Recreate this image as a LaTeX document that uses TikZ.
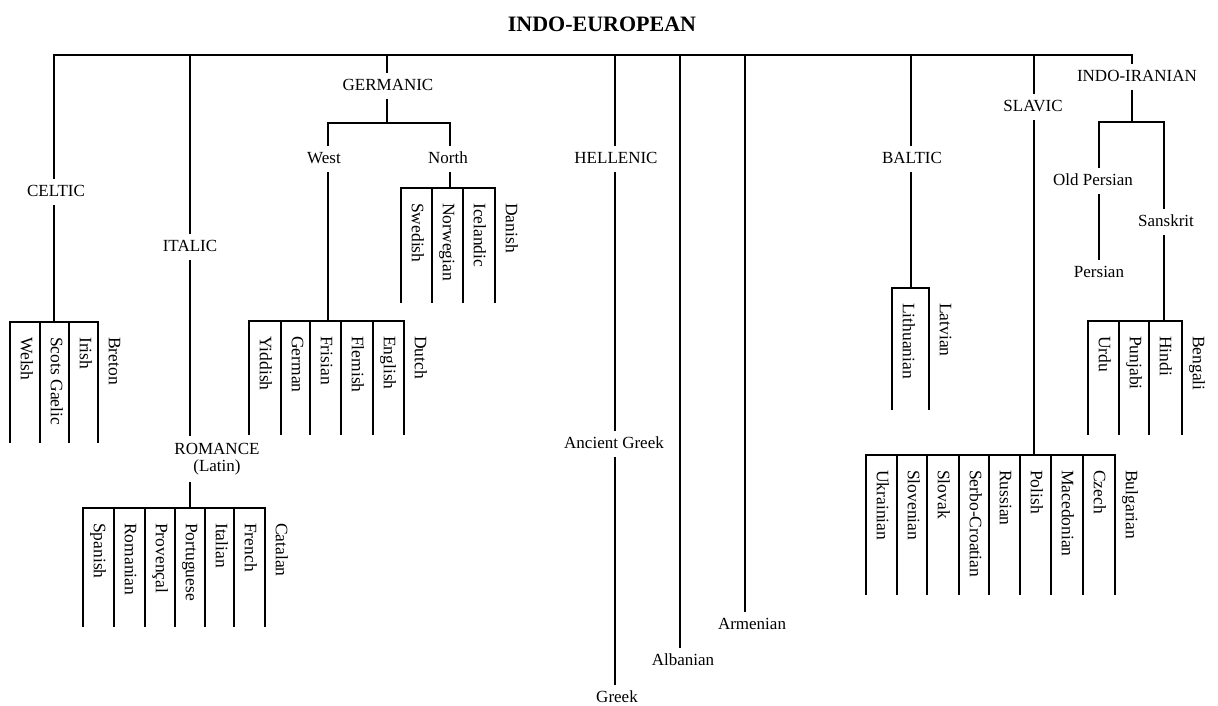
\documentclass[tikz,border=0pt]{standalone}
\usepackage{fontspec}
\setmainfont{Liberation Serif}
\begin{document}
\begin{tikzpicture}[x=1pt,y=-1pt,
  trunk/.style={line width=2.8pt,line join=miter},
  bar/.style={line width=2.2pt,line cap=rect},
  leaf/.style={line width=1.6pt},
  group/.style={font=\fontsize{17}{17}\selectfont,inner xsep=2pt,inner ysep=5pt,
    text height=12pt,text depth=3.5pt},
  lang/.style={rotate=-90,anchor=west,inner sep=0pt,
    font=\fontsize{17.5}{18}\selectfont,text height=12pt,text depth=3.5pt},
  title/.style={font=\fontsize{22}{24}\bfseries\selectfont,inner sep=0pt}
]
\useasboundingbox (0,0) rectangle (1218,706);

% a comb of languages: prefix, y of the bar, y of the line ends, x/name list
\newcommand\langcomb[4]{%
  \foreach \x/\lbl [count=\i] in {#4} {
    \coordinate (#1-\i) at (\x,#2);
    \coordinate (#1-\i-end) at (\x,#3);
    \draw[leaf] (#1-\i) -- (#1-\i-end);
    \node[lang] (#1-\i-name) at (\x+15,#2+15) {\lbl};
  }%
}

% ---------- labels ----------
\node[title] (ie) at (602,24) {INDO-EUROPEAN};
\node[group] (celtic) at (56,192) {CELTIC};
\node[group] (italic) at (190,247) {ITALIC};
\node[group,align=center,inner ysep=7pt,text height=,text depth=]
  (romance) at (217,459) {ROMANCE\\(Latin)};
\node[group] (germanic) at (388,86) {GERMANIC};
\node[group] (west) at (324,159) {West};
\node[group] (north) at (448,159) {North};
\node[group] (hellenic) at (616,159) {HELLENIC};
\node[group] (ancgreek) at (614,444) {Ancient Greek};
\node[group] (greek) at (617,698) {Greek};
\node[group] (albanian) at (683,661) {Albanian};
\node[group] (armenian) at (752,625) {Armenian};
\node[group] (baltic) at (912,159) {BALTIC};
\node[group] (slavic) at (1033,107) {SLAVIC};
\node[group] (indoiran) at (1137,77) {INDO-IRANIAN};
\node[group] (oldpers) at (1093,181) {Old Persian};
\node[group] (persian) at (1099,273) {Persian};
\node[group] (sanskrit) at (1166,222) {Sanskrit};

% ---------- branch points ----------
\coordinate (tCel) at (54,55);
\coordinate (tIta) at (190,55);
\coordinate (tGer) at (387,55);
\coordinate (tHel) at (615,55);
\coordinate (tAlb) at (680,55);
\coordinate (tArm) at (745,55);
\coordinate (tBal) at (911,55);
\coordinate (tSla) at (1034,55);
\coordinate (tIIr) at (1132,55);
\coordinate (gWest) at (328,123);
\coordinate (gNorth) at (450,123);
\coordinate (iiL) at (1099,122);
\coordinate (iiR) at (1164,122);

% ---------- language combs ----------
\langcomb{cel}{322}{443}{10/Welsh,40/Scots Gaelic,69/Irish,98/Breton}
\langcomb{rom}{508}{627}{83/Spanish,114/Romanian,145/Provençal,175/Portuguese,205/Italian,234/French,265/Catalan}
\langcomb{wg}{321}{435}{249/Yiddish,281/German,310/Frisian,341/Flemish,373/English,404/Dutch}
\langcomb{ng}{188}{303}{401/Swedish,432/Norwegian,463/Icelandic,495/Danish}
\langcomb{bal}{288}{410}{892/Lithuanian,929/Latvian}
\langcomb{sla}{455}{595}{866/Ukrainian,897/Slovenian,927/Slovak,959/Serbo-Croatian,989/Russian,1020/Polish,1051/Macedonian,1083/Czech,1115/Bulgarian}
\langcomb{ind}{321}{435}{1088/Urdu,1119/Punjabi,1149/Hindi,1182/Bengali}

\draw[bar] (cel-1) -- (cel-4);
\draw[bar] (rom-1) -- (rom-7);
\draw[bar] (wg-1) -- (wg-6);
\draw[bar] (ng-1) -- (ng-4);
\draw[bar] (bal-1) -- (bal-2);
\draw[bar] (sla-1) -- (sla-9);
\draw[bar] (ind-1) -- (ind-4);

% ---------- main tree ----------
\draw[trunk] (tCel |- celtic.north) -- (tCel) -- (tIIr) -- (tIIr |- indoiran.north);
\draw[trunk] (tCel |- celtic.south) -- (tCel |- cel-1);

\draw[trunk] (tIta) -- (tIta |- italic.north);
\draw[trunk] (tIta |- italic.south) -- (tIta |- romance.north);
\draw[trunk] (tIta |- romance.south) -- (tIta |- rom-1);

\draw[trunk] (tGer) -- (tGer |- germanic.north);
\draw[trunk] (tGer |- germanic.south) -- (tGer |- gWest);
\draw[trunk] (gWest |- west.north) -- (gWest) -- (gNorth) -- (gNorth |- north.north);
\draw[trunk] (gWest |- west.south) -- (gWest |- wg-1);
\draw[trunk] (gNorth |- north.south) -- (gNorth |- ng-1);

\draw[trunk] (tHel) -- (tHel |- hellenic.north);
\draw[trunk] (tHel |- hellenic.south) -- (tHel |- ancgreek.north);
\draw[trunk] (tHel |- ancgreek.south) -- (tHel |- greek.north);

\draw[trunk] (tAlb) -- (tAlb |- albanian.north);
\draw[trunk] (tArm) -- (tArm |- armenian.north);

\draw[trunk] (tBal) -- (tBal |- baltic.north);
\draw[trunk] (tBal |- baltic.south) -- (tBal |- bal-1);

\draw[trunk] (tSla) -- (tSla |- slavic.north);
\draw[trunk] (tSla |- slavic.south) -- (tSla |- sla-1);

\draw[trunk] (tIIr |- indoiran.south) -- (tIIr |- iiL);
\draw[trunk] (iiL |- oldpers.north) -- (iiL) -- (iiR) -- (iiR |- sanskrit.north);
\draw[trunk] (iiL |- oldpers.south) -- (iiL |- persian.north);
\draw[trunk] (iiR |- sanskrit.south) -- (iiR |- ind-1);
\end{tikzpicture}
\end{document}
